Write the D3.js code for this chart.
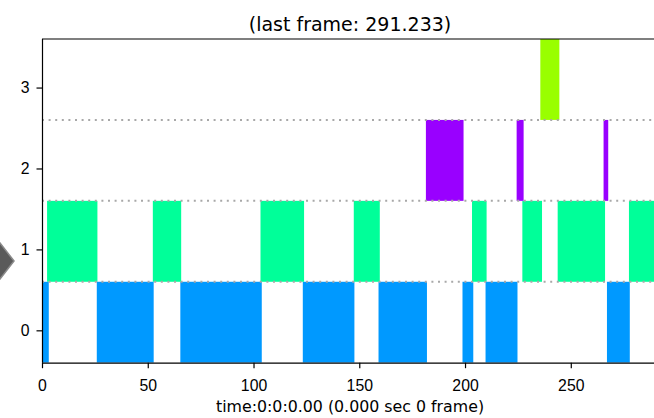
<!DOCTYPE html>
<html lang="en">
<head>
    <meta charset="UTF-8">
    <title>Timeline</title>
    <script src="https://d3js.org/d3.v7.min.js"></script>
    <style>
        body { margin: 0; background: #fff; }
        svg { display: block; font-family: "DejaVu Sans", sans-serif; }
        .tick text { font-size: 15.8px; fill: #000; }
        .tick line, .domain { stroke: #000; stroke-width: 1.2px; }
    </style>
</head>
<body>
    <script>
        // data
        const lastFrame = 291.233;
        const levels = [0, 1, 2, 3];
        const levelColors = ["#0099ff", "#00ff99", "#9900ff", "#99ff00"];
        const level0 = [[0, 3.2], [25.9, 52.8], [65.4, 103.9], [123.3, 147.7], [159.1, 182.0],
                        [198.8, 203.9], [209.7, 224.8], [267.1, 277.9]];
        const level1 = [[2.4, 26.2], [52.4, 65.8], [103.3, 123.9], [147.4, 159.7], [203.3, 210.2],
                        [227.1, 236.4], [243.8, 266.2], [277.5, 291.233]];
        const level2 = [[181.5, 199.3], [224.4, 227.7], [265.5, 267.7]];
        const level3 = [[235.6, 244.6]];
        const separators = [0.6, 1.6, 2.6];
        const xTicks = [0, 50, 100, 150, 200, 250];
        const yTicks = [0, 1, 2, 3];

        const width = 654, height = 418;
        const mLeft = 42, mRight = 658, mTop = 39, mBottom = 362.7;

        const svg = d3.select("body").append("svg")
            .attr("width", width)
            .attr("height", height);

        const x = d3.scaleLinear().domain([0, lastFrame]).range([mLeft, mRight]);
        const y = d3.scaleLinear().domain([-0.4, 3.6]).range([mBottom, mTop]);

        svg.append("clipPath").attr("id", "plot")
            .append("rect")
            .attr("x", mLeft).attr("y", mTop)
            .attr("width", mRight - mLeft).attr("height", mBottom - mTop);

        const plot = svg.append("g").attr("clip-path", "url(#plot)");

        const segs = [level0, level1, level2, level3];
        levels.forEach(lv => {
            plot.selectAll(null)
                .data(segs[lv])
                .enter()
                .append("rect")
                .attr("x", d => x(d[0]))
                .attr("width", d => x(d[1]) - x(d[0]))
                .attr("y", y(lv + 0.6))
                .attr("height", y(lv - 0.4) - y(lv + 0.6))
                .attr("fill", levelColors[lv]);
        });

        // dotted separators on top of bars
        plot.selectAll(".sep")
            .data(separators)
            .enter()
            .append("line")
            .attr("x1", mLeft).attr("x2", mRight)
            .attr("y1", d => y(d)).attr("y2", d => y(d))
            .attr("stroke", "#a8a8a8")
            .attr("stroke-width", 2)
            .attr("stroke-dasharray", "2,4.6");

        // axes
        svg.append("g")
            .attr("transform", `translate(0,${mBottom})`)
            .call(d3.axisBottom(x).tickValues(xTicks).tickSize(5.5).tickPadding(11.5))
            .call(g => g.select(".domain").attr("d", `M${mLeft},0.5H${mRight}`));

        svg.append("g")
            .attr("transform", `translate(${mLeft},0)`)
            .call(d3.axisLeft(y).tickValues(yTicks).tickFormat(d3.format("d"))
                .tickSize(5.5).tickPadding(7))
            .call(g => g.select(".domain").attr("d", `M0.5,${mTop}V${mBottom}`));

        // top spine
        svg.append("line")
            .attr("x1", mLeft).attr("x2", mRight)
            .attr("y1", mTop).attr("y2", mTop)
            .attr("stroke", "#000").attr("stroke-width", 1.2);

        // title and label
        svg.append("text")
            .attr("x", (mLeft + mRight) / 2).attr("y", 31)
            .attr("text-anchor", "middle")
            .style("font-size", "19px")
            .text(`(last frame: ${lastFrame})`);

        svg.append("text")
            .attr("x", (mLeft + mRight) / 2).attr("y", 412)
            .attr("text-anchor", "middle")
            .style("font-size", "15.8px")
            .text("time:0:0:0.00 (0.000 sec 0 frame)");

        // grey navigation marker at the left edge
        svg.append("path")
            .attr("d", "M14,261L0,243L-14,261L0,279Z")
            .attr("fill", "#5a5a5a")
            .attr("stroke", "#8a8a8a")
            .attr("stroke-width", 1.5);
    </script>
</body>
</html>
